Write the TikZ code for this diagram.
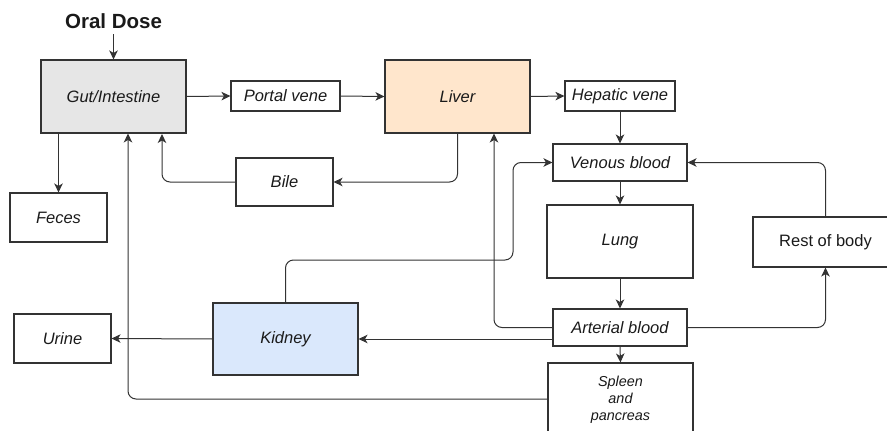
\documentclass[tikz,border=0pt]{standalone}
\usepackage{fontspec}
\setmainfont{Liberation Sans}
\usetikzlibrary{arrows.meta}
\definecolor{linec}{HTML}{333333}
\definecolor{gutfill}{HTML}{E6E6E6}
\definecolor{liverfill}{HTML}{FFE6CC}
\definecolor{kidneyfill}{HTML}{DAE8FC}
\definecolor{textc}{HTML}{1A1A1A}
\tikzset{
  organ/.style={draw=linec, line width=1.1pt, inner sep=0pt, text=textc,
    font=\fontsize{16.5}{19}\selectfont\itshape, align=center},
  flow/.style={draw=linec, line width=1pt, rounded corners=8pt,
    -{Stealth[length=9pt,width=8.5pt,inset=2.5pt]}},
}
\begin{document}
\begin{tikzpicture}[x=1pt,y=-1pt]
\useasboundingbox (0,0) rectangle (887,431);

% title
\node[font=\fontsize{20.5}{24}\selectfont\bfseries, text=textc] (dose) at (113.5,21.5) {Oral Dose};

% compartments
\node[organ, fill=gutfill, minimum width=145, minimum height=73] (gut) at (113.5,96.5) {Gut/Intestine};
\node[organ, minimum width=109, minimum height=30] (portal) at (285.5,96) {Portal vene};
\node[organ, fill=liverfill, minimum width=145, minimum height=73] (liver) at (457.5,96.5) {Liver};
\node[organ, minimum width=110, minimum height=30] (hepatic) at (620,96) {Hepatic vene};
\node[organ, minimum width=134, minimum height=37] (venous) at (620,162.5) {Venous blood};
\node[organ, minimum width=146, minimum height=73] (lung) at (620,241.5) {Lung};
\node[organ, minimum width=134, minimum height=37] (arterial) at (620,327.5) {Arterial blood};
\node[organ, minimum width=145, minimum height=74,
  font=\fontsize{14.4}{17}\selectfont\itshape] (spleen) at (620.5,400) {Spleen\\and\\pancreas};
\node[organ, minimum width=145, minimum height=50, font=\fontsize{16.5}{19}\selectfont] (rest) at (825.5,242) {Rest of body};
\node[organ, fill=kidneyfill, minimum width=145, minimum height=72] (kidney) at (285.5,339) {Kidney};
\node[organ, minimum width=97, minimum height=49] (urine) at (62.5,338.5) {Urine};
\node[organ, minimum width=97, minimum height=49] (feces) at (58.5,217.5) {Feces};
\node[organ, minimum width=97, minimum height=48] (bile) at (284.5,182) {Bile};

% flows
\coordinate (dosetail) at (113.5,34);
\draw[flow] (dosetail) -- (gut.north);
\draw[flow] (gut.east) -- (portal.west);
\draw[flow] (portal.east) -- (liver.west);
\draw[flow] (liver.east) -- (hepatic.west);
\draw[flow] (hepatic.south) -- (venous.north);
\draw[flow] (venous.south) -- (lung.north);
\draw[flow] (lung.south) -- (arterial.north);
\draw[flow] (arterial.south) -- (spleen.north);
\draw[flow] (gut.south -| feces.north) -- (feces.north);
\draw[flow] (liver.south) |- (bile.east);
\draw[flow] (bile.west) -| (162,134);
\draw[flow] (spleen.west |- 0,399) -| (128,133.5);
\draw[flow] (arterial.west) -| (494,133.5);
\draw[flow] (arterial.west |- 0,339) -- (kidney.east);
\draw[flow] (kidney.west) -- (urine.east);
\draw[flow] (kidney.north) -- (285.5,260) -- (513,260) |- (venous.west);
\draw[flow] (arterial.east) -| (rest.south);
\draw[flow] (rest.north) |- (venous.east);
\end{tikzpicture}
\end{document}
